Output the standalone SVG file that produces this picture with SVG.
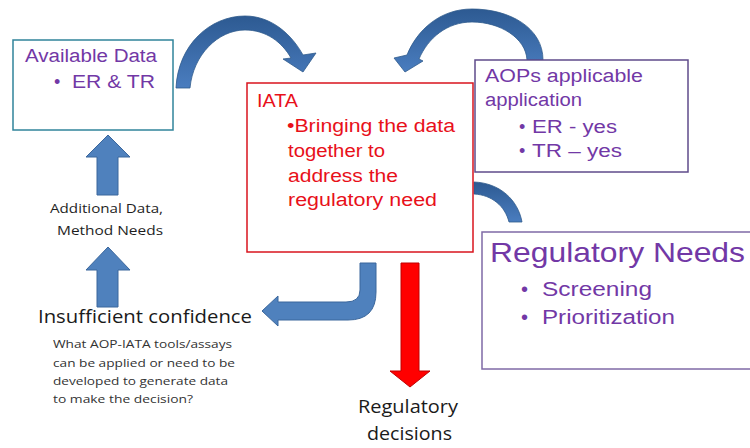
<svg xmlns="http://www.w3.org/2000/svg" width="750" height="448" viewBox="0 0 750 448">
<defs>
<linearGradient id="arcG" x1="0" y1="0" x2="0" y2="1">
<stop offset="0" stop-color="#2d5a92"/>
<stop offset="1" stop-color="#4a7dbf"/>
</linearGradient>
</defs>
<style>
.box{fill:#ffffff;stroke-width:1.5}
.ar{font-family:"Liberation Sans",Arial,sans-serif}
.pur{fill:#7238a6}
.red{fill:#e8101a}
.cal{font-family:"Open Sans","Liberation Sans",sans-serif}
.dk{fill:#1e1e1e}
.arc{fill:url(#arcG);stroke:#2f5a8c;stroke-width:0.8}
.blk{fill:#4f81bd;stroke:#3b679c;stroke-width:1}
</style>
<rect width="750" height="448" fill="#ffffff"/>

<g id="connectors">
<path class="arc" d="M176,88 C178,45 210,16 245,16 C272,16 292,35 303,55 L316,53 L303,72 L283,59 L291,58 C282,42 266,30 245,30 C218,30 193,55 190,88 Z"/>
<path class="arc" d="M543,60 C543,28 510,9 472,9 C440,9 417,30 407,55 L394,58 L405,72 L423,61 L419,59 C428,38 447,22 472,22 C500,22 526,38 527,60 Z"/>
<path class="arc" d="M474,182 C500,183 518,200 522,222 L509,222 C505,206 492,195 474,194 Z"/>
<path class="blk" d="M97,195 L97,157 L86,157 L108,135 L130,157 L118,157 L118,195 Z"/>
<path class="blk" d="M97,307 L97,270 L86,270 L108,247 L130,270 L118,270 L118,307 Z"/>
<path class="blk" d="M360,263 L376,263 L376,292 Q376,320 348,320 L278,320 L278,326 L262,311 L278,296 L278,302 L346,302 Q360,302 360,290 Z"/>
<path d="M401,263 L419,263 L419,371 L430,371 L410,387 L390,371 L401,371 Z" fill="#ff0000" stroke="#c00000" stroke-width="1"/>
</g>

<g id="available-data">
<rect class="box" x="13" y="40" width="160" height="90" stroke="#31849b"/>
<text class="ar pur" x="25" y="62" font-size="18" textLength="132" lengthAdjust="spacingAndGlyphs">Available Data</text>
<text class="ar pur" x="54" y="88" font-size="18">•</text>
<text class="ar pur" x="72" y="88" font-size="18" textLength="83" lengthAdjust="spacingAndGlyphs">ER  &amp; TR</text>
</g>

<g id="iata">
<rect class="box" x="247" y="83" width="226" height="169" stroke="#d9141e"/>
<text class="ar red" x="257" y="107" font-size="18" textLength="41" lengthAdjust="spacingAndGlyphs">IATA</text>
<text class="ar red" x="287" y="132" font-size="18" textLength="168" lengthAdjust="spacingAndGlyphs">•Bringing the data</text>
<text class="ar red" x="288" y="157" font-size="18" textLength="97" lengthAdjust="spacingAndGlyphs">together to</text>
<text class="ar red" x="288" y="182" font-size="18" textLength="110" lengthAdjust="spacingAndGlyphs">address the</text>
<text class="ar red" x="288" y="206" font-size="18" textLength="149" lengthAdjust="spacingAndGlyphs">regulatory need</text>
</g>

<g id="aops">
<rect class="box" x="475" y="60" width="213" height="112" stroke="#5f4b8b"/>
<text class="ar pur" x="485" y="82" font-size="18" textLength="158" lengthAdjust="spacingAndGlyphs">AOPs applicable</text>
<text class="ar pur" x="485" y="106" font-size="18" textLength="97" lengthAdjust="spacingAndGlyphs">application</text>
<text class="ar pur" x="519" y="133" font-size="18">•</text>
<text class="ar pur" x="532" y="133" font-size="18" textLength="85" lengthAdjust="spacingAndGlyphs">ER - yes</text>
<text class="ar pur" x="519" y="157" font-size="18">•</text>
<text class="ar pur" x="532" y="157" font-size="18" textLength="90" lengthAdjust="spacingAndGlyphs">TR – yes</text>
</g>

<g id="regulatory-needs">
<rect class="box" x="482" y="232" width="280" height="137" stroke="#7f6aa6"/>
<text class="ar pur" x="490" y="262" font-size="28" textLength="255" lengthAdjust="spacingAndGlyphs">Regulatory  Needs</text>
<text class="ar pur" x="521" y="296" font-size="20">•</text>
<text class="ar pur" x="542" y="296" font-size="20" textLength="110" lengthAdjust="spacingAndGlyphs">Screening</text>
<text class="ar pur" x="521" y="324" font-size="20">•</text>
<text class="ar pur" x="542" y="324" font-size="20" textLength="133" lengthAdjust="spacingAndGlyphs">Prioritization</text>
</g>

<g id="additional-data">
<text class="cal dk" x="50" y="213" font-size="12" textLength="113" lengthAdjust="spacingAndGlyphs">Additional Data,</text>
<text class="cal dk" x="57" y="235" font-size="12" textLength="106" lengthAdjust="spacingAndGlyphs">Method Needs</text>
</g>

<g id="insufficient-confidence">
<text class="cal" fill="#1a1a1a" x="38" y="323" font-size="19" textLength="214" lengthAdjust="spacingAndGlyphs">Insufficient confidence</text>
<text class="cal" fill="#333333" x="53" y="348" font-size="11" textLength="179" lengthAdjust="spacingAndGlyphs">What AOP-IATA tools/assays</text>
<text class="cal" fill="#333333" x="53" y="367" font-size="11" textLength="182" lengthAdjust="spacingAndGlyphs">can be applied or need to be</text>
<text class="cal" fill="#333333" x="53" y="385" font-size="11" textLength="175" lengthAdjust="spacingAndGlyphs">developed to generate data</text>
<text class="cal" fill="#333333" x="53" y="403" font-size="11" textLength="140" lengthAdjust="spacingAndGlyphs">to make the decision?</text>
</g>

<g id="regulatory-decisions">
<text class="cal" fill="#1a1a1a" x="358" y="413" font-size="18" textLength="100" lengthAdjust="spacingAndGlyphs">Regulatory</text>
<text class="cal" fill="#1a1a1a" x="367" y="440" font-size="18" textLength="85" lengthAdjust="spacingAndGlyphs">decisions</text>
</g>
</svg>
